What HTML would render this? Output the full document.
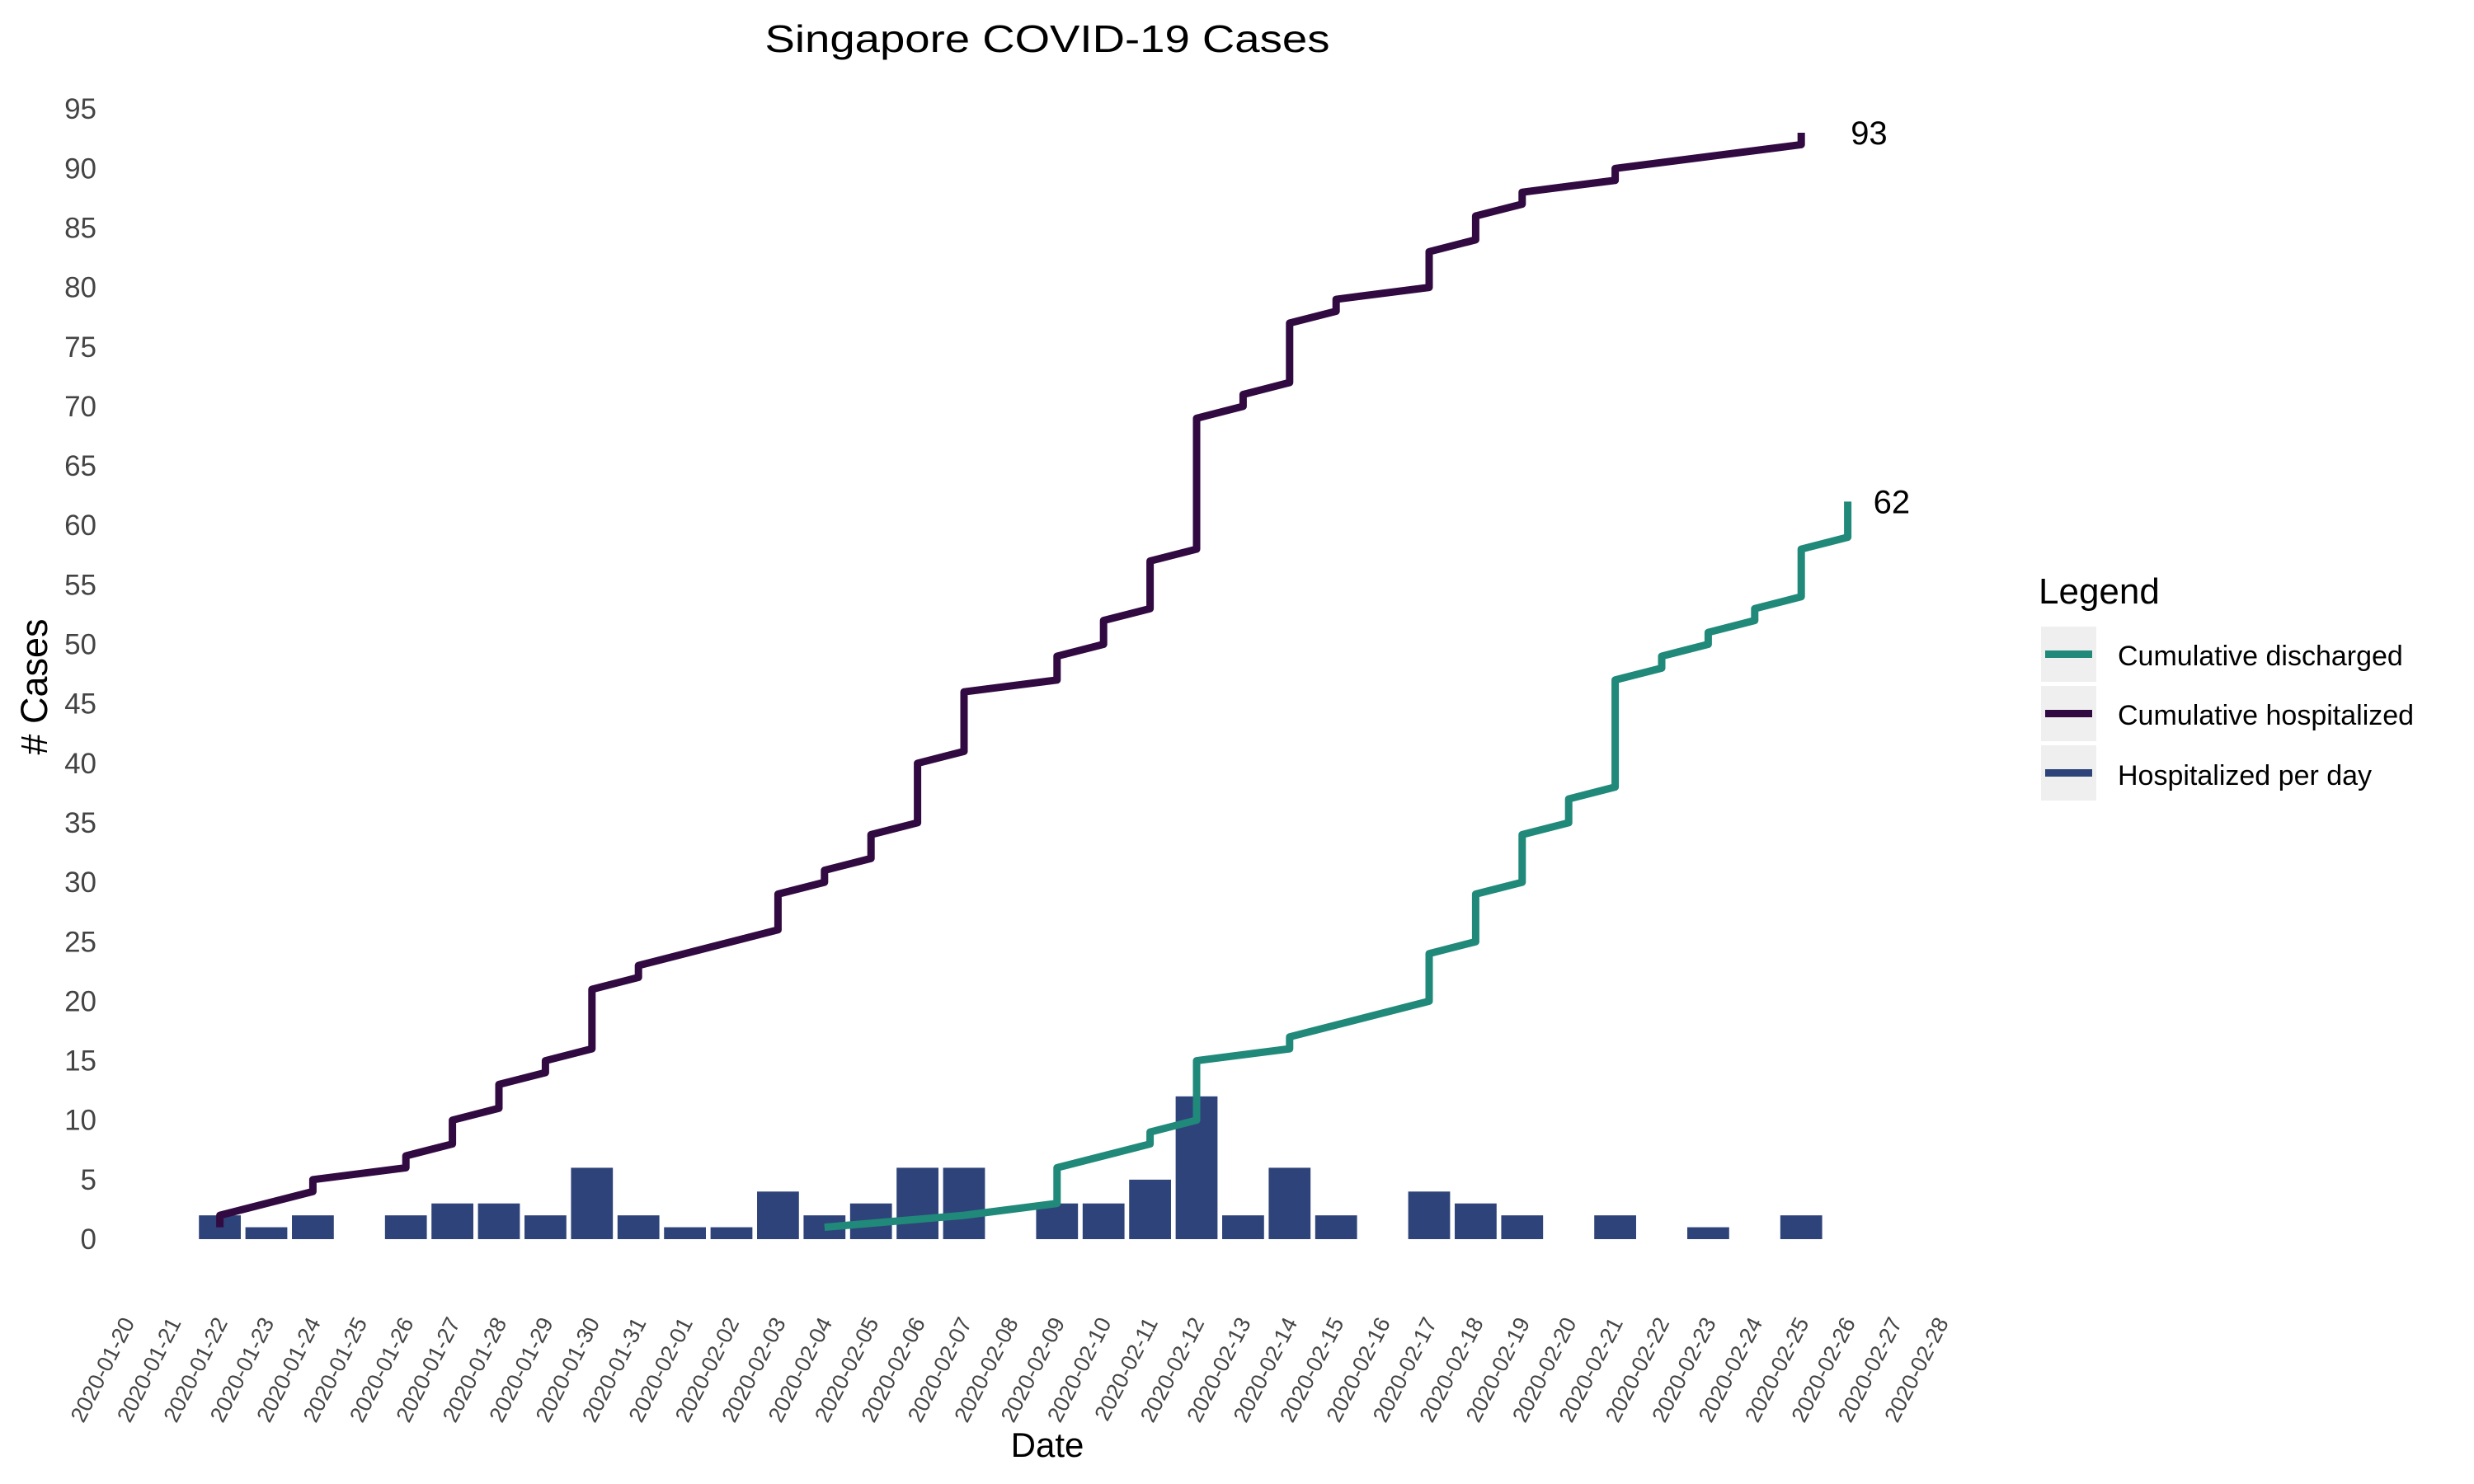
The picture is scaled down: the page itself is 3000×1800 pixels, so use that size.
<!DOCTYPE html>
<html><head><meta charset="utf-8"><style>
html,body{margin:0;padding:0;background:#fff;}
svg{display:block;font-family:"Liberation Sans",Arial,sans-serif;}
</style></head><body>
<svg id="chart" width="3000" height="1800" viewBox="0 0 3000 1800" xmlns="http://www.w3.org/2000/svg">
<text x="1270" y="63" font-size="46" text-anchor="middle" textLength="685" lengthAdjust="spacingAndGlyphs" fill="#000">Singapore COVID-19 Cases</text>
<text transform="translate(57,833) rotate(-90)" font-size="45" text-anchor="middle" fill="#000"># Cases</text>
<text x="1270" y="1767" font-size="42" text-anchor="middle" fill="#000">Date</text>
<g id="yticks"></g>
<g id="xticks"></g>
<g id="bars"></g>
<g id="lines"></g>
<g>
<text x="2472" y="732" font-size="44" fill="#000">Legend</text>
<g>
<rect x="2475" y="760" width="67" height="67" fill="#efefef"/>
<rect x="2480" y="789" width="57" height="9" fill="#20897a"/>
<text x="2568" y="807" font-size="34" fill="#000">Cumulative discharged</text></g>
<g>
<rect x="2475" y="832" width="67" height="67" fill="#efefef"/>
<rect x="2480" y="861" width="57" height="9" fill="#310a41"/>
<text x="2568" y="879" font-size="34" fill="#000">Cumulative hospitalized</text></g>
<g>
<rect x="2475" y="904" width="67" height="67" fill="#efefef"/>
<rect x="2480" y="933" width="57" height="9" fill="#2e4379"/>
<text x="2568" y="952" font-size="34" fill="#000">Hospitalized per day</text></g>
</g>
</svg>
<script>
const dateLabels = ["2020-01-20","2020-01-21","2020-01-22","2020-01-23","2020-01-24","2020-01-25","2020-01-26","2020-01-27","2020-01-28","2020-01-29","2020-01-30","2020-01-31","2020-02-01","2020-02-02","2020-02-03","2020-02-04","2020-02-05","2020-02-06","2020-02-07","2020-02-08","2020-02-09","2020-02-10","2020-02-11","2020-02-12","2020-02-13","2020-02-14","2020-02-15","2020-02-16","2020-02-17","2020-02-18","2020-02-19","2020-02-20","2020-02-21","2020-02-22","2020-02-23","2020-02-24","2020-02-25","2020-02-26","2020-02-27","2020-02-28"];
const yTicks = [0,5,10,15,20,25,30,35,40,45,50,55,60,65,70,75,80,85,90,95];
const barDates = ["2020-01-22","2020-01-23","2020-01-24","2020-01-26","2020-01-27","2020-01-28","2020-01-29","2020-01-30","2020-01-31","2020-02-01","2020-02-02","2020-02-03","2020-02-04","2020-02-05","2020-02-06","2020-02-07","2020-02-09","2020-02-10","2020-02-11","2020-02-12","2020-02-13","2020-02-14","2020-02-15","2020-02-17","2020-02-18","2020-02-19","2020-02-21","2020-02-23","2020-02-25"];
const barValues = [2,1,2,2,3,3,2,6,2,1,1,4,2,3,6,6,3,3,5,12,2,6,2,4,3,2,2,1,2];
const hospDates = ["2020-01-22","2020-01-24","2020-01-26","2020-01-27","2020-01-28","2020-01-29","2020-01-30","2020-01-31","2020-02-03","2020-02-04","2020-02-05","2020-02-06","2020-02-07","2020-02-09","2020-02-10","2020-02-11","2020-02-12","2020-02-13","2020-02-14","2020-02-15","2020-02-17","2020-02-18","2020-02-19","2020-02-21","2020-02-25"];
const hospLow  = [1,4,6,8,11,14,16,22,26,30,32,35,41,47,50,53,58,70,72,78,80,84,87,89,92];
const hospHigh = [2,5,7,10,13,15,21,23,29,31,34,40,46,49,52,57,69,71,77,79,83,86,88,90,93];
const discDates = ["2020-02-04","2020-02-07","2020-02-09","2020-02-11","2020-02-12","2020-02-14","2020-02-17","2020-02-18","2020-02-19","2020-02-20","2020-02-21","2020-02-22","2020-02-23","2020-02-24","2020-02-25","2020-02-26"];
const discLow  = [1,2,3,8,10,16,20,25,30,35,38,48,50,52,54,59];
const discHigh = [1,2,6,9,15,17,24,29,34,37,47,49,51,53,58,62];

const NS="http://www.w3.org/2000/svg";
const X0=153.8, DAY=56.4, Y0=1503, YU=14.43;
function xOf(d){return X0+dateLabels.indexOf(d)*DAY;}
function yOf(v){return Y0-v*YU;}
function mk(tag,attrs,parent){const e=document.createElementNS(NS,tag);for(const k in attrs)e.setAttribute(k,attrs[k]);parent.appendChild(e);return e;}

const yg=document.getElementById('yticks');
yTicks.forEach(v=>{
  const t=mk('text',{x:117,y:yOf(v)+12,'font-size':35,'text-anchor':'end',fill:'#444'},yg);
  
  
  t.textContent=v;
});
const xg=document.getElementById('xticks');
dateLabels.forEach(d=>{
  const x=xOf(d);
  const t=mk('text',{transform:`translate(${x+10},1604) rotate(-63)`,'font-size':27,'text-anchor':'end',fill:'#444'},xg);
  
  
  t.textContent=d;
});
const bg=document.getElementById('bars');
const BW=DAY*0.9;
barDates.forEach((d,i)=>{
  const r=mk('rect',{x:xOf(d)-BW/2,y:yOf(barValues[i]),width:BW,height:barValues[i]*YU,fill:'#2e4379'},bg);
  
  
});
function stepPath(dates,lo,hi){
  let p='';
  dates.forEach((d,i)=>{const x=xOf(d);p+=(i?'L':'M')+x+','+yOf(lo[i])+'L'+x+','+yOf(hi[i]);});
  return p;
}
const lg=document.getElementById('lines');
const pd=mk('path',{d:stepPath(discDates,discLow,discHigh),fill:'none',stroke:'#20897a','stroke-width':9,'stroke-linejoin':'round'},lg);


const ph=mk('path',{d:stepPath(hospDates,hospLow,hospHigh),fill:'none',stroke:'#310a41','stroke-width':9,'stroke-linejoin':'round'},lg);


const hl=mk('text',{x:xOf(hospDates[hospDates.length-1])+60,y:yOf(hospHigh[hospHigh.length-1])+14,'font-size':40,fill:'#000'},lg);


hl.textContent=hospHigh[hospHigh.length-1];
const dl=mk('text',{x:xOf(discDates[discDates.length-1])+31,y:yOf(discHigh[discHigh.length-1])+14,'font-size':40,fill:'#000'},lg);


dl.textContent=discHigh[discHigh.length-1];
</script>
</body></html>
